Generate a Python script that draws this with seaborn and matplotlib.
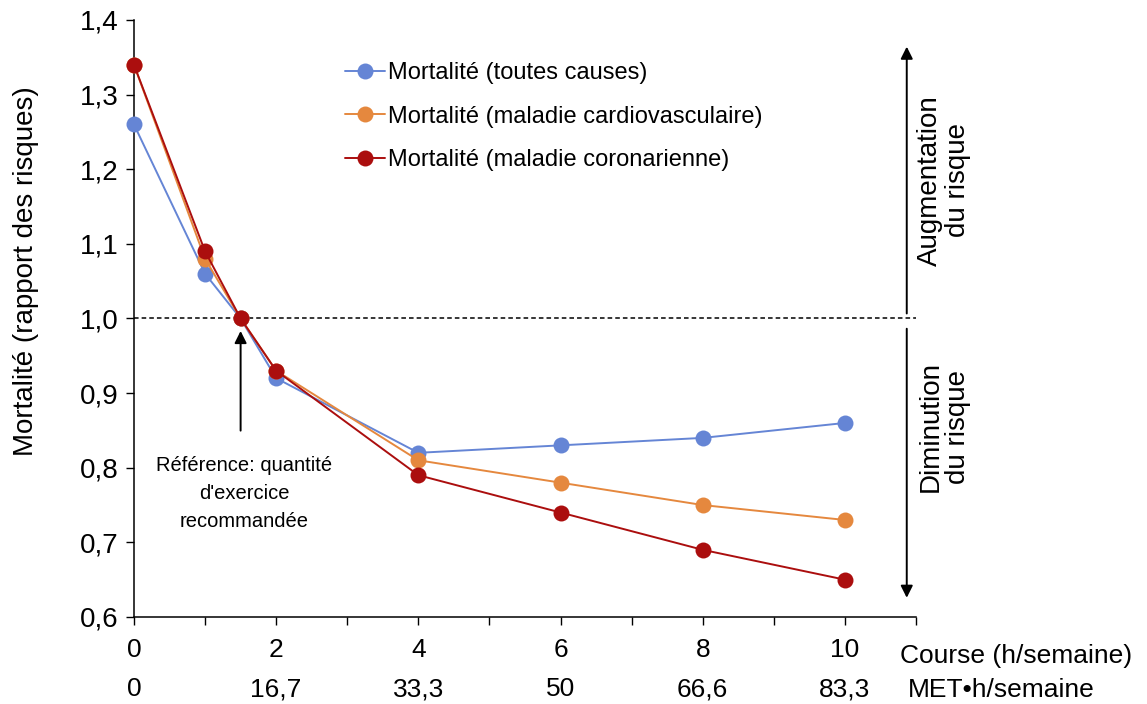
import pandas as pd
import seaborn as sns
import matplotlib.pyplot as plt

# Données
course = [0, 1, 1.5, 2, 4, 6, 8, 10]
toutes_causes = [1.26, 1.06, 1.0, 0.92, 0.82, 0.83, 0.84, 0.86]
cardiovasculaire = [1.34, 1.08, 1.0, 0.93, 0.81, 0.78, 0.75, 0.73]
coronarienne = [1.34, 1.09, 1.0, 0.93, 0.79, 0.74, 0.69, 0.65]

series = ['Mortalité (toutes causes)', 'Mortalité (maladie cardiovasculaire)',
          'Mortalité (maladie coronarienne)']
couleurs = ['#6585d5', '#e5883e', '#ab0e0e']

x_ticks = list(range(0, 12))
course_labels = {0: '0', 2: '2', 4: '4', 6: '6', 8: '8', 10: '10'}
met_labels = {0: '0', 2: '16,7', 4: '33,3', 6: '50', 8: '66,6', 10: '83,3'}
y_ticks = [0.6, 0.7, 0.8, 0.9, 1.0, 1.1, 1.2, 1.3, 1.4]

df = pd.DataFrame({
    'course': course * 3,
    'valeur': toutes_causes + cardiovasculaire + coronarienne,
    'serie': [series[0]] * len(course) + [series[1]] * len(course) + [series[2]] * len(course),
})

sns.set_style('white')
plt.rcParams['font.family'] = ['Liberation Sans', 'DejaVu Sans']
plt.rcParams['text.color'] = 'black'
plt.rcParams['axes.labelcolor'] = 'black'
plt.rcParams['xtick.color'] = 'black'
plt.rcParams['ytick.color'] = 'black'

fig = plt.figure(figsize=(11.47, 7.04), dpi=100)
ax = fig.add_axes([0.1168, 0.1236, 0.6818, 0.848])

sns.lineplot(data=df, x='course', y='valeur', hue='serie', palette=couleurs,
             marker='o', markersize=11.5, markeredgewidth=0, linewidth=1.4,
             ax=ax, clip_on=False, zorder=3)

# ligne de référence
ax.plot([0, 11], [1.0, 1.0], ls='--', color='black', lw=1.1, dashes=(3, 2), zorder=1)

ax.set_xlim(0, 11)
ax.set_ylim(0.6, 1.4)
ax.set_xticks(x_ticks)
ax.set_xticklabels([f'{course_labels[t]}\n{met_labels[t]}' if t in course_labels else ''
                    for t in x_ticks], linespacing=1.8)
ax.set_yticks(y_ticks)
ax.set_yticklabels([f'{v:.1f}'.replace('.', ',') for v in y_ticks])
ax.tick_params(axis='both', length=6, width=1, direction='out',
               bottom=True, left=True, color='black')
ax.tick_params(axis='x', labelsize=19, pad=9)
ax.tick_params(axis='y', labelsize=20, pad=5)
for s in ['top', 'right']:
    ax.spines[s].set_visible(False)
for s in ['left', 'bottom']:
    ax.spines[s].set_color('black')
    ax.spines[s].set_linewidth(1.1)

ax.set_xlabel('')
ax.set_ylabel('Mortalité (rapport des risques)', fontsize=20)
ax.yaxis.set_label_coords(-0.122, 0.58)

ax.text(10.78, -0.066, 'Course (h/semaine)', transform=ax.get_xaxis_transform(),
        fontsize=19, ha='left', va='center')
ax.text(10.88, -0.123, 'MET•h/semaine', transform=ax.get_xaxis_transform(),
        fontsize=19, ha='left', va='center')

# flèches à droite
ax.annotate('', xy=(10.87, 1.368), xytext=(10.87, 1.003),
            arrowprops=dict(arrowstyle='-|>', color='black', lw=1.4, mutation_scale=18),
            annotation_clip=False)
ax.annotate('', xy=(10.87, 0.622), xytext=(10.87, 0.99),
            arrowprops=dict(arrowstyle='-|>', color='black', lw=1.4, mutation_scale=18),
            annotation_clip=False)
ax.text(11.4, 1.185, 'Augmentation\ndu risque', rotation=90, fontsize=20,
        ha='center', va='center', multialignment='center', linespacing=1.1)
ax.text(11.4, 0.855, 'Diminution\ndu risque', rotation=90, fontsize=20,
        ha='center', va='center', multialignment='center', linespacing=1.1)

# flèche de référence
ax.annotate('', xy=(1.5, 0.987), xytext=(1.5, 0.846),
            arrowprops=dict(arrowstyle='-|>', color='black', lw=1.4, mutation_scale=18))
ax.text(1.55, 0.765, "Référence: quantité\nd'exercice\nrecommandée", fontsize=14.5,
        ha='center', va='center', multialignment='center', linespacing=1.6)

handles, labels = ax.get_legend_handles_labels()
ax.legend(handles, labels, loc='upper left', bbox_to_anchor=(0.258, 0.945),
          frameon=False, fontsize=17, handlelength=1.7, handletextpad=0.1,
          labelspacing=0.9, borderaxespad=0)

fig.savefig('out.png', dpi=100)
